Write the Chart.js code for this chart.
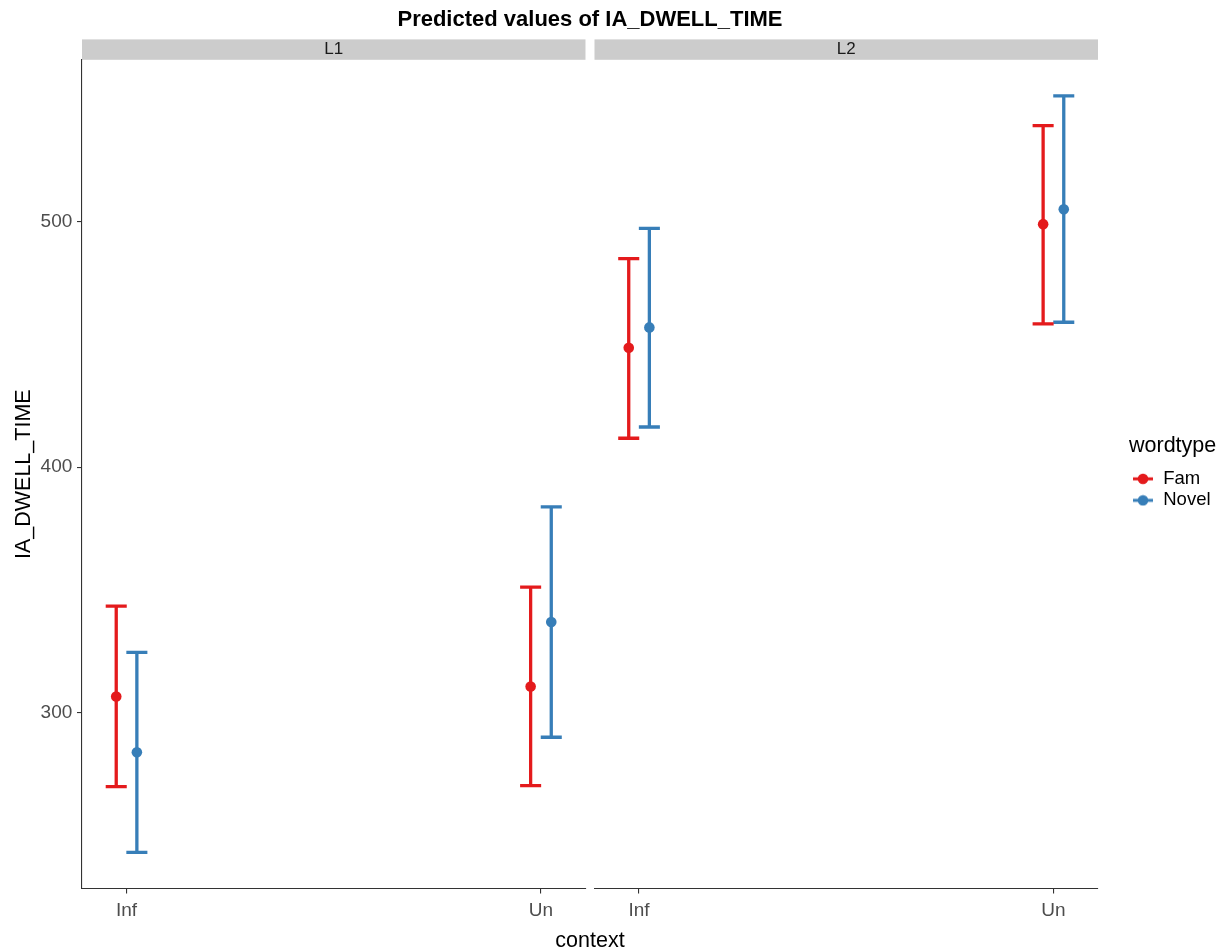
<!DOCTYPE html>
<html>
<head>
<meta charset="utf-8">
<script src="https://cdn.jsdelivr.net/npm/chart.js@4.4.1/dist/chart.umd.min.js"></script>
<style>
html,body{margin:0;padding:0;background:#ffffff;}
canvas{display:block;}
</style>
</head>
<body>
<canvas id="c" width="1228" height="952"></canvas>
<script>
// ---- data ----
const contexts = ['Inf', 'Un'];
const panels = ['L1', 'L2'];
const seriesNames = ['Fam', 'Novel'];
const yTicks = [300, 400, 500];

const fam_L1_pred = [306.5, 310.6];
const fam_L1_low  = [269.8, 270.2];
const fam_L1_high = [343.4, 351.1];
const nov_L1_pred = [283.8, 336.9];
const nov_L1_low  = [243.0, 289.9];
const nov_L1_high = [324.5, 383.8];

const fam_L2_pred = [448.7, 499.1];
const fam_L2_low  = [411.8, 458.4];
const fam_L2_high = [485.0, 539.3];
const nov_L2_pred = [457.0, 505.2];
const nov_L2_low  = [416.4, 459.1];
const nov_L2_high = [497.4, 551.4];

// ---- styling ----
const RED = '#E41A1C', BLUE = '#377EB8';
const DODGE = 0.0249, CAP = 0.0254;
const FONT = "'Liberation Sans', Arial, Helvetica, sans-serif";
Chart.defaults.font.family = FONT;

function pointData(means, side) {
  return means.map((m, i) => ({x: i + 1 + side * DODGE, y: m}));
}
function barData(lo, hi, side) {
  const out = [];
  lo.forEach((l, i) => {
    const x = i + 1 + side * DODGE, h = hi[i];
    out.push({x: x, y: l}, {x: x, y: h}, {x: x, y: null},
             {x: x - CAP, y: h}, {x: x + CAP, y: h}, {x: x, y: null},
             {x: x - CAP, y: l}, {x: x + CAP, y: l}, {x: x, y: null});
  });
  return out;
}
function pointSet(label, means, side, color, xAxis, legend) {
  return {type: 'scatter', label: label, data: pointData(means, side), xAxisID: xAxis, yAxisID: 'y',
    backgroundColor: color, borderColor: color, borderWidth: 0, pointRadius: 5.3, pointHoverRadius: 5.3,
    order: 0, showInLegend: legend};
}
function barSet(label, lo, hi, side, color, xAxis) {
  return {type: 'line', label: label, data: barData(lo, hi, side), xAxisID: xAxis, yAxisID: 'y',
    borderColor: color, backgroundColor: color, borderWidth: 3.3, pointRadius: 0, pointHoverRadius: 0,
    borderCapStyle: 'butt', tension: 0, spanGaps: false, fill: false, order: 1, showInLegend: false};
}

function legendKey(color) {
  const c = document.createElement('canvas');
  c.width = 22; c.height = 12;
  const g = c.getContext('2d');
  g.strokeStyle = color; g.lineWidth = 3;
  g.beginPath(); g.moveTo(1, 6); g.lineTo(21, 6); g.stroke();
  g.fillStyle = color;
  g.beginPath(); g.arc(11, 6, 5.3, 0, Math.PI * 2); g.fill();
  return c;
}
const keys = [legendKey(RED), legendKey(BLUE)];

const datasets = [
  pointSet(seriesNames[0], fam_L1_pred, -1, RED, 'x1', true),
  pointSet(seriesNames[1], nov_L1_pred, 1, BLUE, 'x1', true),
  pointSet(seriesNames[0], fam_L2_pred, -1, RED, 'x2', false),
  pointSet(seriesNames[1], nov_L2_pred, 1, BLUE, 'x2', false),
  barSet(seriesNames[0], fam_L1_low, fam_L1_high, -1, RED, 'x1'),
  barSet(seriesNames[1], nov_L1_low, nov_L1_high, 1, BLUE, 'x1'),
  barSet(seriesNames[0], fam_L2_low, fam_L2_high, -1, RED, 'x2'),
  barSet(seriesNames[1], nov_L2_low, nov_L2_high, 1, BLUE, 'x2')
];

const XMIN = 0.8925, XMAX = 2.1075;
const AXIS_COL = '#333333', TICK_COL = '#4D4D4D';

function panelAxis(weight) {
  return {
    type: 'linear', axis: 'x', position: 'bottom', stack: 'panels', stackWeight: weight,
    min: XMIN, max: XMAX, offset: false,
    afterBuildTicks: (s) => { s.ticks = contexts.map((c, i) => ({value: i + 1})); },
    ticks: {display: true, autoSkip: false, maxRotation: 0, padding: 5.4, color: TICK_COL,
      font: {size: 19, lineHeight: 1.2},
      callback: (v) => contexts[Math.round(v) - 1]},
    grid: {display: true, drawOnChartArea: false, drawTicks: true, tickLength: 5, color: AXIS_COL, lineWidth: 1.1},
    border: {display: true, color: AXIS_COL, width: 1.1},
    title: {display: false}
  };
}
function blankAxis(pos, stack, weight) {
  return {
    type: 'linear', axis: 'x', position: pos, stack: stack, stackWeight: weight,
    ticks: {display: false}, grid: {display: false, drawTicks: false},
    border: {display: false}, title: {display: false}
  };
}
function stripAxis(text, weight) {
  return {
    type: 'linear', axis: 'x', position: 'top', stack: 'strips', stackWeight: weight,
    backgroundColor: '#CCCCCC',
    ticks: {display: false}, grid: {display: false, drawTicks: false}, border: {display: false},
    title: {display: true, text: text, color: '#1A1A1A', font: {size: 17, lineHeight: 1.2}, padding: 0}
  };
}

const contextAxis = {
  type: 'linear', axis: 'x', position: 'bottom', weight: 1,
  ticks: {display: false}, grid: {display: false, drawTicks: false}, border: {display: false},
  title: {display: true, text: 'context', color: '#000000', font: {size: 21.5, lineHeight: 1},
    padding: {top: 3.3, bottom: 0}}
};

new Chart(document.getElementById('c'), {
  data: {datasets: datasets},
  options: {
    responsive: false,
    animation: false,
    events: [],
    layout: {padding: {top: 0, left: 0, right: 7.46, bottom: 0}},
    scales: {
      x1: panelAxis(503),
      xg: blankAxis('bottom', 'panels', 9),
      x2: panelAxis(503),
      xc: contextAxis,
      // top boxes are laid out in reverse order, so the right strip comes first
      xs2: stripAxis(panels[1], 503),
      xsg: blankAxis('top', 'strips', 9),
      xs1: stripAxis(panels[0], 503),
      y: {
        type: 'linear', position: 'left', min: 228.2, max: 566.1,
        afterBuildTicks: (s) => { s.ticks = yTicks.map(v => ({value: v})); },
        afterFit: (s) => { s.width = 82; },
        ticks: {autoSkip: false, padding: 4.7, color: TICK_COL, font: {size: 19, lineHeight: 1.2},
          callback: (v) => String(v)},
        grid: {display: true, drawOnChartArea: false, drawTicks: true, tickLength: 5, color: AXIS_COL, lineWidth: 1.1},
        border: {display: true, color: AXIS_COL, width: 1.1},
        title: {display: true, text: 'IA_DWELL_TIME', color: '#000000', font: {size: 21.5, lineHeight: 1},
          padding: {top: 13.5, bottom: 0}}
      },
      yR: {
        type: 'linear', axis: 'y', position: 'right',
        afterFit: (s) => { s.width = 31; },
        ticks: {display: false}, grid: {display: false, drawTicks: false}, border: {display: false},
        title: {display: false}
      }
    },
    plugins: {
      tooltip: {enabled: false},
      title: {
        display: true, text: 'Predicted values of IA_DWELL_TIME', position: 'top', align: 'center',
        fullSize: false, color: '#000000',
        font: {size: 22, weight: 'bold', lineHeight: 1.2},
        padding: {top: 7, bottom: 6}
      },
      legend: {
        display: true, position: 'right', align: 'center', fullSize: false,
        title: {display: true, text: 'wordtype', position: 'start', color: '#000000',
          font: {size: 21.5, lineHeight: 1.2}, padding: {top: 0, bottom: 5}},
        labels: {
          usePointStyle: true, pointStyleWidth: 22, padding: 3, color: '#000000',
          font: {size: 18.5, lineHeight: 1.2},
          filter: (item, data) => data.datasets[item.datasetIndex].showInLegend,
          generateLabels: (chart) => {
            const items = Chart.defaults.plugins.legend.labels.generateLabels(chart);
            items.forEach(it => {
              const ds = chart.data.datasets[it.datasetIndex];
              it.pointStyle = ds.borderColor === RED ? keys[0] : keys[1];
              it.fontColor = '#000000';
            });
            return items;
          }
        }
      }
    }
  }
});
</script>
</body>
</html>
